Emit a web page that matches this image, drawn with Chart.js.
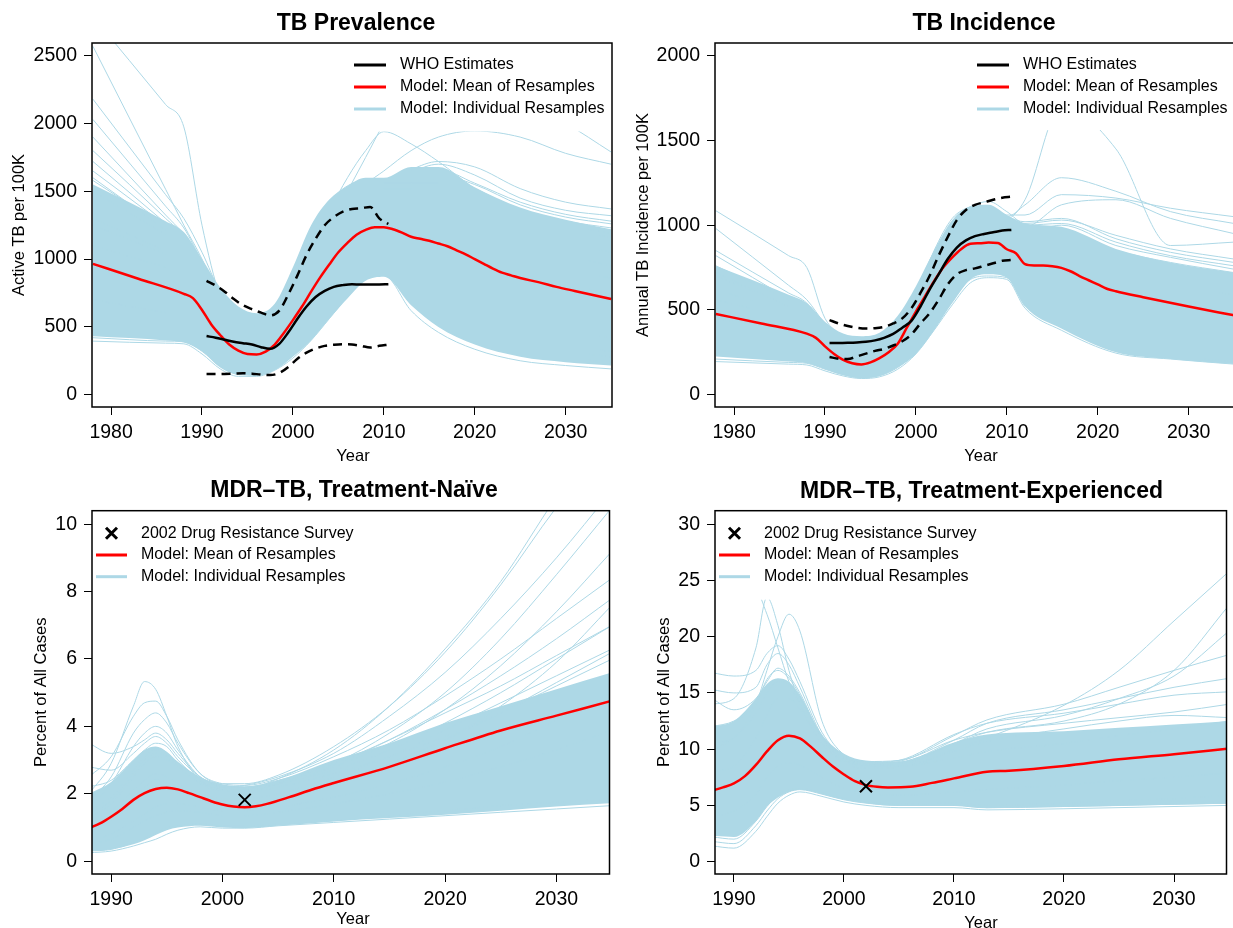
<!DOCTYPE html>
<html>
<head>
<meta charset="utf-8">
<script src="https://cdn.jsdelivr.net/npm/chart.js@4.4.1/dist/chart.umd.min.js"></script>
<style>
  html, body { margin: 0; padding: 0; background: #fff; overflow: hidden; }
  body { width: 1233px; height: 928px; position: relative; }
  .panel { position: absolute; }
  canvas { display: block; }
</style>
</head>
<body>
<div class="panel" style="left:0;top:0"><canvas id="prev" width="620" height="464"></canvas></div>
<div class="panel" style="left:620px;top:0"><canvas id="inc" width="617" height="464"></canvas></div>
<div class="panel" style="left:0;top:464px"><canvas id="naive" width="620" height="464"></canvas></div>
<div class="panel" style="left:620px;top:464px"><canvas id="exp" width="617" height="464"></canvas></div>
<script>
// ---------- TB prevalence ----------
const prevYears = [1978, 1986, 1988, 1990, 1992, 1994, 1996, 1998, 2000, 2002, 2004, 2006, 2008, 2010, 2013, 2016, 2020, 2025, 2030, 2035];
const prevCoreLow = [430, 400, 385, 320, 200, 145, 140, 180, 280, 400, 560, 710, 840, 870, 660, 500, 370, 280, 240, 215];
const prevCoreHigh = [1550, 1280, 1200, 1000, 790, 650, 600, 670, 940, 1250, 1440, 1540, 1600, 1600, 1680, 1680, 1530, 1380, 1290, 1220];
const prevRuns = [
  [2790, 2140, 1975, 1250, 720, 480, 440, 500, 720, 1000, 1220, 1330, 1380, 1370, 1300, 1200, 1060, 920, 820, 740],
  [2570, 1515, 1250, 1000, 700, 560, 520, 580, 800, 1100, 1350, 1480, 1540, 1530, 1480, 1400, 1280, 1130, 1030, 950],
  [2180, 1475, 1300, 1050, 760, 600, 570, 640, 880, 1200, 1420, 1540, 1580, 1560, 1560, 1520, 1420, 1250, 1150, 1080],
  [2030, 1390, 1230, 980, 720, 580, 560, 620, 850, 1150, 1380, 1500, 1560, 1580, 1600, 1620, 1520, 1360, 1280, 1230],
  [1900, 1325, 1180, 960, 690, 540, 520, 580, 800, 1100, 1330, 1460, 1520, 1540, 1640, 1700, 1620, 1450, 1360, 1320],
  [1720, 1265, 1150, 930, 660, 520, 490, 560, 760, 1050, 1280, 1420, 1500, 1520, 1520, 1480, 1380, 1230, 1120, 1050],
  [1300, 1060, 1000, 820, 560, 420, 390, 450, 650, 950, 1250, 1500, 1750, 2000, 2300, 2400, 2300, 2150, 2000, 1790],
  [1100, 940, 900, 760, 520, 380, 350, 420, 620, 930, 1200, 1400, 1550, 1650, 1800, 1900, 1945, 1900, 1780, 1700],
  [1250, 1035, 980, 800, 560, 420, 400, 470, 700, 1050, 1350, 1600, 1800, 1940, 1850, 1720, 1520, 1330, 1220, 1160],
  [395, 380, 375, 300, 190, 135, 135, 180, 270, 400, 560, 720, 850, 880, 620, 460, 335, 250, 215, 190],
  [420, 395, 390, 320, 210, 150, 145, 190, 290, 430, 600, 760, 880, 920, 700, 560, 420, 320, 270, 240],
  [470, 440, 430, 350, 240, 170, 160, 210, 320, 480, 660, 820, 920, 950, 780, 640, 500, 380, 320, 280],
  [560, 495, 480, 390, 260, 190, 175, 230, 360, 540, 720, 880, 980, 1000, 860, 720, 560, 430, 360, 320],
  [1500, 1180, 1100, 900, 640, 500, 480, 540, 760, 1060, 1300, 1450, 1530, 1560, 1660, 1720, 1680, 1520, 1420, 1370],
  [1600, 1215, 1120, 920, 650, 510, 490, 560, 780, 1080, 1320, 1440, 1490, 1480, 1420, 1340, 1180, 1020, 920, 860],
  [700, 605, 580, 460, 300, 210, 195, 250, 400, 600, 800, 960, 1050, 1080, 1000, 900, 740, 580, 480, 420],
  [1650, 1250, 1150, 940, 670, 520, 500, 570, 780, 1080, 1310, 1450, 1530, 1560, 1600, 1620, 1550, 1400, 1310, 1260],
  [1800, 1300, 1170, 950, 680, 530, 505, 575, 790, 1090, 1320, 1470, 1550, 1580, 1660, 1660, 1560, 1420, 1330, 1280],
  [1580, 1230, 1140, 930, 665, 515, 495, 565, 770, 1070, 1300, 1440, 1520, 1540, 1560, 1560, 1470, 1330, 1250, 1190]
];
const prevMeanYears = [1978, 1983, 1988, 1989, 1990, 1991, 1992, 1993, 1994, 1995, 1996, 1997, 1998, 1999, 2000, 2001, 2002, 2003, 2004, 2005, 2006, 2007, 2008, 2009, 2010, 2011, 2012, 2013, 2014, 2015, 2016, 2017, 2018, 2019, 2020, 2021, 2022, 2023, 2024, 2025, 2027, 2029, 2031, 2033, 2035];
const prevMean = [965, 855, 744, 712, 625, 520, 440, 370, 325, 300, 297, 318, 370, 455, 550, 650, 760, 865, 960, 1050, 1120, 1180, 1215, 1235, 1235, 1220, 1195, 1165, 1150, 1135, 1115, 1095, 1065, 1035, 1000, 965, 930, 900, 880, 860, 830, 795, 765, 735, 705];
const whoYears = [1990.5, 1991.5, 1992.5, 1993.5, 1994.5, 1995.5, 1996.5, 1997.5, 1998.5, 1999.5, 2000.5, 2001.5, 2002.5, 2003.5, 2004.5, 2005.5, 2006.5, 2007.5, 2008.5, 2009.5, 2010.5];
const prevWho = [432, 420, 405, 390, 380, 370, 350, 338, 375, 460, 560, 650, 720, 765, 795, 808, 815, 812, 812, 813, 815];
const prevWhoHigh = [840, 805, 760, 705, 660, 630, 605, 585, 620, 740, 880, 1030, 1150, 1250, 1310, 1350, 1370, 1375, 1385, 1300, 1260];
const prevWhoLow = [152, 152, 153, 155, 158, 155, 148, 145, 160, 205, 265, 310, 340, 360, 368, 372, 370, 360, 348, 360, 368];
const prevYTicks = [0, 500, 1000, 1500, 2000, 2500];

// ---------- TB incidence ----------
const incYears = [1978, 1986, 1988, 1990, 1992, 1994, 1996, 1998, 2000, 2002, 2004, 2006, 2008, 2010, 2012, 2016, 2022, 2028, 2035];
const incCoreLow = [225, 195, 185, 150, 115, 97, 110, 160, 240, 380, 540, 680, 710, 690, 520, 390, 250, 210, 180];
const incCoreHigh = [760, 590, 540, 430, 360, 345, 365, 465, 640, 850, 1030, 1110, 1120, 1060, 1010, 990, 860, 780, 720];
const incRuns = [
  [1085, 820, 750, 450, 350, 320, 340, 430, 620, 840, 1000, 1070, 1080, 1040, 980, 950, 850, 780, 720],
  [980, 645, 560, 420, 340, 310, 330, 420, 600, 820, 990, 1060, 1070, 1030, 1000, 1010, 900, 820, 760],
  [850, 600, 540, 400, 320, 290, 310, 400, 580, 800, 980, 1080, 1100, 1060, 1060, 1180, 1160, 1100, 1050],
  [820, 565, 500, 380, 300, 270, 290, 380, 560, 780, 950, 1050, 1080, 1050, 1120, 1280, 1200, 1080, 1010],
  [700, 525, 480, 370, 290, 260, 280, 370, 540, 760, 940, 1040, 1060, 1040, 1150, 1700, 1450, 880, 900],
  [720, 520, 470, 360, 280, 250, 270, 360, 530, 750, 930, 1040, 1060, 1000, 990, 1120, 1150, 1040, 950],
  [195, 180, 175, 140, 110, 95, 105, 150, 240, 380, 530, 660, 690, 680, 510, 380, 245, 210, 180],
  [210, 190, 185, 150, 118, 100, 112, 160, 255, 400, 550, 680, 700, 690, 530, 400, 260, 225, 195],
  [240, 210, 200, 160, 125, 105, 118, 170, 270, 420, 580, 700, 720, 705, 545, 420, 290, 250, 210],
  [760, 560, 510, 400, 330, 300, 320, 410, 600, 830, 1000, 1080, 1090, 1050, 1020, 1040, 920, 840, 780],
  [620, 485, 450, 360, 300, 280, 300, 380, 560, 790, 960, 1060, 1080, 1020, 960, 1000, 880, 810, 740],
  [330, 265, 250, 190, 145, 120, 130, 180, 280, 420, 590, 720, 740, 730, 580, 470, 340, 290, 250],
  [560, 450, 420, 340, 290, 270, 290, 390, 590, 850, 1040, 1110, 1140, 1080, 1010, 1030, 940, 860, 800],
  [450, 380, 360, 300, 250, 230, 250, 330, 500, 720, 900, 1000, 1020, 980, 850, 820, 700, 640, 590]
];
const incMeanYears = [1978, 1983, 1988, 1989, 1990, 1991, 1992, 1993, 1994, 1995, 1996, 1997, 1998, 1999, 2000, 2001, 2002, 2003, 2004, 2005, 2006, 2007, 2008, 2009, 2010, 2011, 2012, 2013, 2014, 2015, 2016, 2017, 2018, 2019, 2020, 2021, 2022, 2025, 2030, 2035];
const incMean = [476, 420, 360, 335, 285, 240, 205, 185, 178, 190, 215, 250, 300, 395, 490, 580, 670, 750, 810, 860, 890, 893, 897, 895, 858, 834, 770, 762, 762, 758, 748, 728, 700, 675, 650, 625, 610, 575, 520, 468];
const incWho = [305, 305, 306, 308, 312, 320, 335, 358, 395, 435, 520, 620, 710, 800, 868, 910, 935, 948, 958, 968, 972];
const incWhoHigh = [440, 420, 405, 395, 390, 392, 400, 420, 450, 510, 600, 700, 820, 930, 1030, 1090, 1120, 1135, 1150, 1162, 1168];
const incWhoLow = [222, 212, 210, 225, 242, 258, 270, 290, 315, 355, 420, 480, 560, 650, 710, 735, 745, 760, 775, 790, 795];
const incYTicks = [0, 500, 1000, 1500, 2000];
const topXTicks = [1980, 1990, 2000, 2010, 2020, 2030];

// ---------- MDR-TB, treatment-naive ----------
const naiveYears = [1988, 1990, 1992, 1993, 1994, 1995, 1996, 1998, 2000, 2002, 2005, 2010, 2015, 2020, 2025, 2030, 2035];
const naiveCoreLow = [0.3, 0.35, 0.5, 0.62, 0.78, 0.92, 1.0, 1.05, 1.0, 0.98, 1.05, 1.18, 1.28, 1.38, 1.5, 1.62, 1.72];
const naiveCoreHigh = [2.0, 2.35, 3.0, 3.3, 3.4, 3.25, 2.95, 2.5, 2.28, 2.22, 2.4, 3.0, 3.5, 4.1, 4.6, 5.1, 5.6];
const naiveRuns = [
  [2.0, 2.9, 4.6, 5.33, 5.1, 4.3, 3.4, 2.4, 2.2, 2.25, 2.5, 3.2, 4.3, 5.6, 7.2, 9.0, 11.0],
  [2.5, 3.1, 4.3, 4.7, 4.75, 4.3, 3.6, 2.6, 2.3, 2.3, 2.55, 3.4, 4.6, 6.2, 8.2, 10.5, 12.5],
  [1.8, 2.5, 3.8, 4.2, 4.4, 4.1, 3.5, 2.6, 2.3, 2.25, 2.45, 3.1, 3.9, 4.9, 6.0, 7.2, 8.4],
  [1.6, 2.3, 3.4, 3.8, 4.0, 3.8, 3.3, 2.5, 2.2, 2.2, 2.4, 2.9, 3.6, 4.4, 5.2, 6.1, 7.0],
  [3.5, 3.2, 3.4, 3.6, 3.8, 3.6, 3.2, 2.5, 2.25, 2.2, 2.35, 2.9, 3.8, 5.0, 6.6, 8.5, 10.5],
  [2.8, 2.7, 3.2, 3.5, 3.7, 3.5, 3.1, 2.5, 2.2, 2.15, 2.3, 2.8, 3.5, 4.5, 5.8, 7.4, 9.2],
  [2.2, 2.4, 3.0, 3.3, 3.5, 3.4, 3.0, 2.4, 2.15, 2.1, 2.3, 2.7, 3.3, 4.1, 5.0, 6.0, 7.0],
  [1.4, 1.8, 2.6, 3.0, 3.2, 3.1, 2.8, 2.3, 2.1, 2.05, 2.2, 2.6, 3.1, 3.7, 4.4, 5.2, 6.0],
  [0.25, 0.3, 0.45, 0.55, 0.65, 0.8, 0.92, 1.02, 0.98, 0.98, 1.05, 1.15, 1.25, 1.35, 1.45, 1.55, 1.65],
  [0.3, 0.35, 0.55, 0.7, 0.85, 1.0, 1.08, 1.1, 1.05, 1.05, 1.1, 1.2, 1.35, 1.5, 1.65, 1.75, 1.85],
  [1.0, 1.3, 1.9, 2.2, 2.4, 2.35, 2.2, 1.9, 1.7, 1.7, 1.85, 2.3, 2.9, 3.6, 4.6, 5.9, 7.6],
  [1.2, 1.5, 2.1, 2.4, 2.6, 2.5, 2.3, 2.0, 1.85, 1.85, 2.0, 2.5, 3.1, 3.9, 4.7, 5.5, 6.3],
  [0.9, 1.2, 1.7, 2.0, 2.2, 2.2, 2.1, 1.85, 1.7, 1.7, 1.85, 2.3, 2.9, 3.6, 4.4, 5.3, 6.2],
  [1.5, 1.9, 2.7, 3.1, 3.3, 3.15, 2.85, 2.3, 2.1, 2.1, 2.3, 2.85, 3.6, 4.5, 5.5, 6.6, 7.8],
  [1.3, 1.7, 2.5, 2.9, 3.1, 3.0, 2.8, 2.35, 2.15, 2.15, 2.45, 3.3, 4.6, 6.3, 8.3, 10.8, 13.0],
  [0.6, 0.8, 1.2, 1.4, 1.6, 1.7, 1.7, 1.6, 1.5, 1.5, 1.6, 1.9, 2.3, 2.8, 3.4, 4.2, 5.0],
  [0.5, 0.65, 1.0, 1.2, 1.35, 1.45, 1.5, 1.45, 1.35, 1.35, 1.45, 1.7, 2.0, 2.35, 2.8, 3.3, 3.9]
];
const naiveMeanYears = [1988, 1989, 1990, 1991, 1992, 1993, 1994, 1995, 1996, 1997, 1998, 1999, 2000, 2001, 2002, 2003, 2004, 2006, 2008, 2010, 2015, 2020, 2025, 2030, 2035];
const naiveMean = [0.98, 1.12, 1.32, 1.55, 1.82, 2.02, 2.14, 2.18, 2.13, 2.02, 1.90, 1.78, 1.68, 1.62, 1.60, 1.63, 1.70, 1.90, 2.12, 2.32, 2.80, 3.35, 3.88, 4.32, 4.76];
const surveyYear = [2002];
const naiveSurvey = [1.82];
const naiveYTicks = [0, 2, 4, 6, 8, 10];
const bottomXTicks = [1990, 2000, 2010, 2020, 2030];

// ---------- MDR-TB, treatment-experienced ----------
const expYears = [1988, 1990, 1992, 1993, 1994, 1995, 1996, 1998, 2000, 2002, 2005, 2010, 2013, 2020, 2025, 2030, 2035];
const expCoreLow = [2.3, 2.2, 3.6, 4.9, 5.7, 6.2, 6.4, 6.0, 5.5, 5.2, 4.95, 4.95, 4.75, 4.85, 4.95, 5.05, 5.15];
const expCoreHigh = [12.0, 12.5, 14.5, 15.8, 16.3, 16.0, 14.8, 11.3, 9.6, 9.0, 8.9, 10.6, 11.3, 11.6, 11.9, 12.2, 12.5];
const expRuns = [
  [25, 23.5, 24, 22, 19, 16, 14, 10.5, 9.0, 8.6, 8.5, 9.2, 9.8, 10.5, 11.2, 11.8, 12.5],
  [14, 14.5, 19, 23.5, 21, 17, 14, 10.5, 9.0, 8.5, 8.5, 10.0, 11.0, 13.9, 17.0, 21.4, 25.8],
  [10, 11, 14, 17, 20, 22, 20.5, 12.5, 9.5, 8.8, 8.7, 10.5, 11.5, 12.5, 14.0, 17.0, 22.8],
  [16.8, 16.5, 17, 18.5, 19.2, 18.0, 16.0, 11.5, 9.3, 8.7, 8.8, 10.8, 12.3, 13.5, 14.5, 15.5, 16.3],
  [15.3, 15.0, 15.5, 17.5, 18.5, 17.5, 15.5, 11.2, 9.2, 8.7, 8.9, 11.2, 12.6, 14.0, 15.5, 17.0, 18.4],
  [14.5, 13.5, 14.5, 16.0, 17.2, 16.5, 15.0, 11.0, 9.0, 8.6, 8.8, 10.5, 11.8, 13.0, 14.5, 16.5, 20.5],
  [1.4, 1.2, 2.7, 4.0, 5.2, 5.9, 6.2, 5.8, 5.3, 5.0, 4.8, 4.8, 4.6, 4.7, 4.8, 4.9, 5.0],
  [1.8, 1.6, 3.2, 4.5, 5.6, 6.2, 6.4, 6.0, 5.5, 5.2, 5.0, 5.0, 4.8, 4.9, 5.0, 5.1, 5.2],
  [2.2, 2.0, 3.6, 4.9, 5.9, 6.4, 6.5, 6.1, 5.6, 5.3, 5.1, 5.2, 5.0, 5.2, 5.4, 5.6, 5.9],
  [12.0, 12.5, 14.0, 16.2, 17.0, 16.3, 14.8, 11.0, 9.2, 8.8, 9.0, 11.3, 12.3, 13.2, 14.0, 14.8, 15.1],
  [10.5, 11.0, 13.2, 15.0, 16.0, 15.8, 14.5, 11.2, 9.3, 8.9, 9.0, 10.8, 11.5, 12.3, 12.8, 13.3, 14.0],
  [4.0, 4.5, 6.0, 7.5, 8.5, 8.8, 8.6, 7.5, 6.5, 6.1, 5.9, 6.2, 6.4, 6.8, 7.2, 7.5, 7.9],
  [8.0, 8.5, 11.0, 13.0, 14.5, 14.5, 13.5, 10.5, 8.8, 8.3, 8.4, 9.8, 10.7, 11.8, 12.5, 13.0, 12.8]
];
const expMeanYears = [1988, 1989, 1990, 1991, 1992, 1993, 1994, 1995, 1996, 1997, 1998, 1999, 2000, 2001, 2002, 2003, 2004, 2006, 2008, 2010, 2013, 2015, 2020, 2025, 2030, 2035];
const expMean = [6.3, 6.6, 6.95, 7.6, 8.6, 9.8, 10.8, 11.2, 10.95, 10.2, 9.3, 8.45, 7.75, 7.15, 6.8, 6.65, 6.6, 6.65, 7.0, 7.4, 8.0, 8.08, 8.5, 9.1, 9.55, 10.05];
const expSurvey = [6.7];
const expYTicks = [0, 5, 10, 15, 20, 25, 30];

const FONT = '"Liberation Sans", Arial, Helvetica, sans-serif';
const BLUE = '#add8e6';
const LEGEND_WHO = [
  { kind: 'line', color: '#000', label: 'WHO Estimates' },
  { kind: 'line', color: '#ff0000', label: 'Model: Mean of Resamples' },
  { kind: 'line', color: BLUE, label: 'Model: Individual Resamples' }
];
const LEGEND_DRS = [
  { kind: 'cross', color: '#000', label: '2002 Drug Resistance Survey' },
  { kind: 'line', color: '#ff0000', label: 'Model: Mean of Resamples' },
  { kind: 'line', color: BLUE, label: 'Model: Individual Resamples' }
];

function pts(xs, ys) {
  return xs.map((x, i) => ({ x: x, y: ys[i] }));
}

// box, titles and legend drawn the way R does them
const decor = {
  id: 'decor',
  afterDatasetsDraw(chart) {
    const d = chart.options.plugins.decor;
    const ctx = chart.ctx;
    const a = chart.chartArea;
    ctx.save();

    // legend (white background hides the lines under it)
    const lg = d.legend;
    ctx.fillStyle = '#fff';
    ctx.fillRect(lg.box[0], lg.box[1], lg.box[2], lg.box[3]);
    ctx.font = '16px ' + FONT;
    ctx.textBaseline = 'middle';
    ctx.textAlign = 'left';
    lg.items.forEach((it, i) => {
      const y = lg.y0 + i * lg.dy;
      ctx.strokeStyle = it.color;
      if (it.kind === 'line') {
        ctx.lineWidth = 3;
        ctx.beginPath();
        ctx.moveTo(lg.x0, y);
        ctx.lineTo(lg.x1, y);
        ctx.stroke();
      } else {
        const cx = (lg.x0 + lg.x1) / 2, r = 5.5;
        ctx.lineWidth = 3;
        ctx.beginPath();
        ctx.moveTo(cx - r, y - r); ctx.lineTo(cx + r, y + r);
        ctx.moveTo(cx - r, y + r); ctx.lineTo(cx + r, y - r);
        ctx.stroke();
      }
      ctx.fillStyle = '#000';
      ctx.fillText(it.label, lg.tx, y);
    });

    // plot box
    ctx.strokeStyle = '#000';
    ctx.lineWidth = 1.5;
    ctx.strokeRect(a.left, a.top, a.right - a.left, a.bottom - a.top);

    // titles
    ctx.fillStyle = '#000';
    ctx.textAlign = 'center';
    ctx.textBaseline = 'alphabetic';
    ctx.font = 'bold 23px ' + FONT;
    ctx.fillText(d.title, d.titleX, d.titleY);
    ctx.font = '16.5px ' + FONT;
    ctx.fillText('Year', d.xTitleX, d.xTitleY);
    ctx.translate(d.yTitleX, (a.top + a.bottom) / 2);
    ctx.rotate(-Math.PI / 2);
    ctx.textBaseline = 'middle';
    ctx.fillText(d.yTitle, 0, 0);
    ctx.restore();
  }
};

function makePanel(id, p) {
  const sets = [];
  if (p.survey) {
    sets.push({ data: pts(surveyYear, p.survey), showLine: false, pointStyle: 'crossRot',
      pointRadius: 8.5, pointBorderWidth: 2, pointBorderColor: '#000', order: 0 });
  }
  if (p.who) {
    sets.push({ data: pts(whoYears, p.who), borderColor: '#000', borderWidth: 2.5, order: 1 });
    sets.push({ data: pts(whoYears, p.whoHigh), borderColor: '#000', borderWidth: 2.5, borderDash: [9, 6], order: 1 });
    sets.push({ data: pts(whoYears, p.whoLow), borderColor: '#000', borderWidth: 2.5, borderDash: [9, 6], order: 1 });
  }
  sets.push({ data: pts(p.meanYears, p.mean), borderColor: '#ff0000', borderWidth: 2.5, order: 2 });
  p.runs.forEach(r => {
    sets.push({ data: pts(p.years, r), borderColor: BLUE, borderWidth: 1, order: 3 });
  });
  sets.push({ data: pts(p.years, p.coreLow), borderColor: 'rgba(0,0,0,0)', borderWidth: 0, order: 4 });
  sets.push({ data: pts(p.years, p.coreHigh), borderColor: 'rgba(0,0,0,0)', borderWidth: 0,
    fill: '-1', backgroundColor: BLUE, order: 4 });

  const tickFont = { family: FONT, size: 19.5 };
  new Chart(document.getElementById(id), {
    type: 'line',
    data: { datasets: sets },
    options: {
      responsive: false,
      animation: false,
      events: [],
      layout: { padding: p.padding },
      elements: {
        point: { radius: 0 },
        line: { cubicInterpolationMode: 'monotone', fill: false }
      },
      scales: {
        x: {
          type: 'linear', min: p.xMin, max: p.xMax,
          grid: { drawOnChartArea: false, tickLength: 8, color: '#000', lineWidth: 1 },
          border: { display: false },
          ticks: { font: tickFont, color: '#000', padding: 6, maxRotation: 0, callback: v => String(v) },
          afterBuildTicks: s => { s.ticks = p.xTicks.map(v => ({ value: v })); },
          afterFit: s => { s.height = p.xAxisH; s.paddingLeft = 0; s.paddingRight = 0; }
        },
        y: {
          type: 'linear', min: p.yMin, max: p.yMax,
          grid: { drawOnChartArea: false, tickLength: 8, color: '#000', lineWidth: 1 },
          border: { display: false },
          ticks: { font: tickFont, color: '#000', padding: 7, callback: v => String(v) },
          afterBuildTicks: s => { s.ticks = p.yTicks.map(v => ({ value: v })); },
          afterFit: s => { s.width = p.yAxisW; s.paddingTop = 0; s.paddingBottom = 0; }
        }
      },
      plugins: {
        legend: { display: false },
        tooltip: { enabled: false },
        decor: p.decor
      }
    },
    plugins: [decor]
  });
}

makePanel('prev', {
  years: prevYears, coreLow: prevCoreLow, coreHigh: prevCoreHigh, runs: prevRuns,
  meanYears: prevMeanYears, mean: prevMean, who: prevWho, whoHigh: prevWhoHigh, whoLow: prevWhoLow,
  xMin: 1977.9, xMax: 2035.1, yMin: -91, yMax: 2594, xTicks: topXTicks, yTicks: prevYTicks,
  padding: { left: 0, top: 43, right: 8, bottom: 0 }, yAxisW: 92, xAxisH: 57,
  decor: {
    title: 'TB Prevalence', titleX: 356, titleY: 30, xTitleX: 353, xTitleY: 461,
    yTitle: 'Active TB per 100K', yTitleX: 19,
    legend: { box: [346, 43, 266, 88.5], items: LEGEND_WHO, x0: 354, x1: 386, tx: 400, y0: 65, dy: 22 }
  }
});

makePanel('inc', {
  years: incYears, coreLow: incCoreLow, coreHigh: incCoreHigh, runs: incRuns,
  meanYears: incMeanYears, mean: incMean, who: incWho, whoHigh: incWhoHigh, whoLow: incWhoLow,
  xMin: 1977.9, xMax: 2035.1, yMin: -73, yMax: 2075, xTicks: topXTicks, yTicks: incYTicks,
  padding: { left: 0, top: 43, right: 2, bottom: 0 }, yAxisW: 95, xAxisH: 57,
  decor: {
    title: 'TB Incidence', titleX: 364, titleY: 30, xTitleX: 361, xTitleY: 461,
    yTitle: 'Annual TB Incidence per 100K', yTitleX: 23,
    legend: { box: [349, 43, 266, 87], items: LEGEND_WHO, x0: 357, x1: 389, tx: 403, y0: 65, dy: 22 }
  }
});

makePanel('naive', {
  years: naiveYears, coreLow: naiveCoreLow, coreHigh: naiveCoreHigh, runs: naiveRuns,
  meanYears: naiveMeanYears, mean: naiveMean, survey: naiveSurvey,
  xMin: 1988.28, xMax: 2034.77, yMin: -0.38, yMax: 10.4, xTicks: bottomXTicks, yTicks: naiveYTicks,
  padding: { left: 0, top: 46.7, right: 8, bottom: 0 }, yAxisW: 92, xAxisH: 54,
  decor: {
    title: 'MDR\u2013TB, Treatment-Na\u00efve', titleX: 354, titleY: 33, xTitleX: 353, xTitleY: 459.5,
    yTitle: 'Percent of All Cases', yTitleX: 41,
    legend: { box: [92, 46.7, 268, 89], items: LEGEND_DRS, x0: 96, x1: 127, tx: 141, y0: 69.3, dy: 21.7 }
  }
});

makePanel('exp', {
  years: expYears, coreLow: expCoreLow, coreHigh: expCoreHigh, runs: expRuns,
  meanYears: expMeanYears, mean: expMean, survey: expSurvey,
  xMin: 1988.28, xMax: 2034.77, yMin: -1.1, yMax: 31.2, xTicks: bottomXTicks, yTicks: expYTicks,
  padding: { left: 0, top: 46.7, right: 2, bottom: 0 }, yAxisW: 95, xAxisH: 54,
  decor: {
    title: 'MDR\u2013TB, Treatment-Experienced', titleX: 361.5, titleY: 34, xTitleX: 361, xTitleY: 463.5,
    yTitle: 'Percent of All Cases', yTitleX: 44.5,
    legend: { box: [95, 46.7, 270, 89], items: LEGEND_DRS, x0: 99, x1: 130, tx: 144, y0: 69.3, dy: 21.7 }
  }
});
</script>
</body>
</html>
